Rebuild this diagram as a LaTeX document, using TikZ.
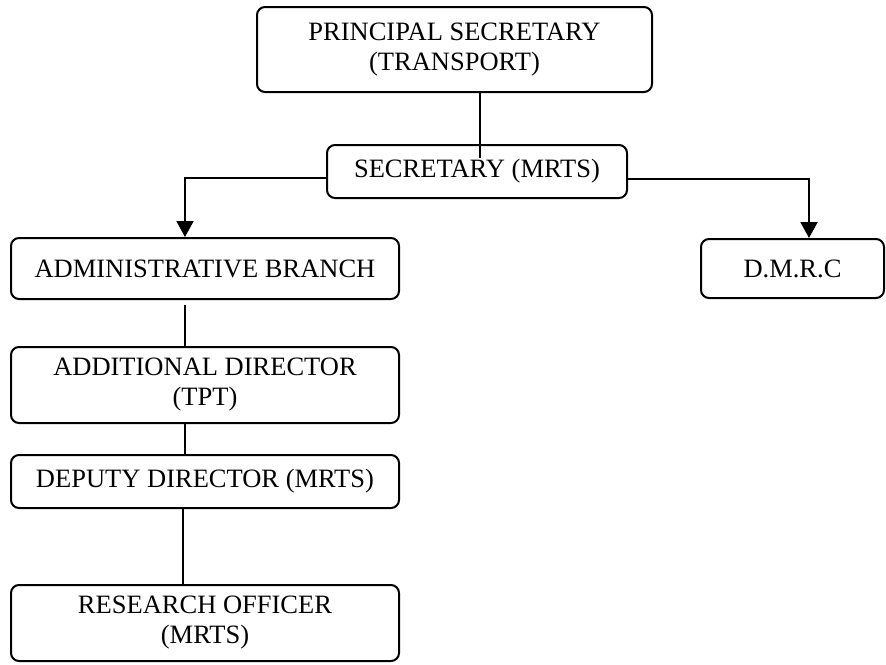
\documentclass[tikz,border=0pt]{standalone}
\usepackage{fontspec}
\setmainfont{Liberation Serif}
\usetikzlibrary{arrows.meta}
\begin{document}
\begin{tikzpicture}[x=1pt,y=-1pt,
  box/.style={draw,line width=2pt,rounded corners=8pt,align=center,inner sep=0pt,font=\fontsize{26.5}{30}\selectfont},
  link/.style={line width=2pt},
  arr/.style={line width=2pt,-{Triangle[length=16pt,width=17pt]}}]
\useasboundingbox (0,0) rectangle (886,664);
\node[box,minimum width=395pt,minimum height=85pt] (ps) at (454.5,49.5) {PRINCIPAL SECRETARY\\(TRANSPORT)};
\node[box,minimum width=300pt,minimum height=53pt] (sec) at (477,171.5) {SECRETARY (MRTS)};
\node[box,minimum width=388pt,minimum height=61pt] (adm) at (205,268.5) {ADMINISTRATIVE BRANCH};
\node[box,minimum width=183pt,minimum height=59pt] (dmrc) at (792.5,268.5) {D.M.R.C};
\node[box,minimum width=388pt,minimum height=76pt] (add) at (205,385) {ADDITIONAL DIRECTOR\\(TPT)};
\node[box,minimum width=388pt,minimum height=53pt] (dep) at (205,481.5) {DEPUTY DIRECTOR (MRTS)};
\node[box,minimum width=388pt,minimum height=76pt] (ro) at (205,623) {RESEARCH OFFICER\\(MRTS)};
\coordinate (secin) at (480,158);
\coordinate (admgap) at (185,305);
\coordinate (ro1) at (183,507);
\draw[link] (ps.south -| secin) -- (secin);
\draw[arr] (sec.west |- 0,178) -| (adm.north -| admgap);
\draw[arr] (sec.east |- 0,179) -| (809,0 |- dmrc.north);
\draw[link] (admgap) -- (admgap |- add.north);
\draw[link] (add.south -| admgap) -- (admgap |- dep.north);
\draw[link] (ro1) -- (ro1 |- ro.north);
\end{tikzpicture}
\end{document}
